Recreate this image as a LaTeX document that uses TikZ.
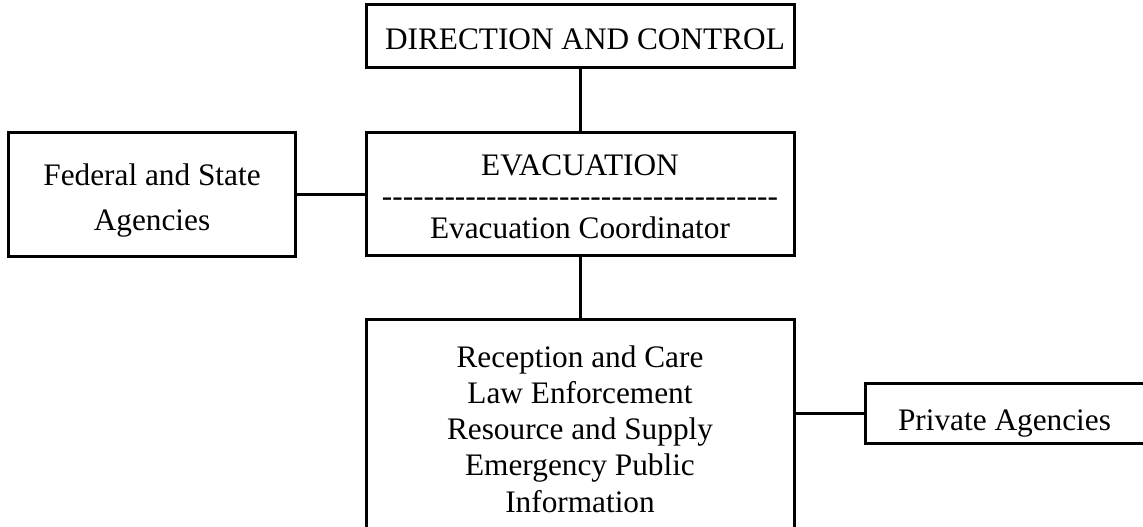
\documentclass[tikz,border=0pt]{standalone}
\usepackage{fontspec}
\setmainfont{Liberation Serif}
\tikzset{
  box/.style={draw, line width=3pt, rectangle, inner sep=0pt, outer sep=0pt},
  boxtext/.style={inner sep=0pt, outer sep=0pt, align=center},
  link/.style={line width=3pt},
}
% a row of separate hyphens, kept apart so they never join into dashes
\newcommand\hyphenrow{\foreach \k in {1,...,38}{\mbox{-}}}
\begin{document}
\begin{tikzpicture}[x=1pt,y=-1pt]
\useasboundingbox (0,0) rectangle (1143,527);
\clip (0,0) rectangle (1143,527);

% boxes
\node[box, minimum width=428pt, minimum height=63pt]  (direction) at (580,36.5) {};
\node[box, minimum width=428pt, minimum height=123pt] (evac)      at (580,193.5) {};
\node[box, minimum width=287pt, minimum height=124pt] (federal)   at (151.5,194) {};
\node[box, minimum width=428pt, minimum height=241pt] (support)   at (580,439.5) {};
\node[box, minimum width=305pt, minimum height=60pt]  (private)   at (1017.5,413) {};

% texts (multi-line blocks are placed by the baseline of their last line)
\node[boxtext, anchor=base west, font=\fontsize{31.3}{31.5}\selectfont]
  (directiontext) at (385,50) {DIRECTION AND CONTROL};
\node[boxtext, anchor=base, font=\fontsize{31.3}{31.5}\selectfont]
  (evactext) at (580,238) {EVACUATION\\\hyphenrow\\Evacuation Coordinator};
\node[boxtext, anchor=base, font=\fontsize{31.3}{45}\selectfont]
  (federaltext) at (152,230) {Federal and State\\Agencies};
\node[boxtext, anchor=base, font=\fontsize{31.3}{36.25}\selectfont]
  (supporttext) at (580,512) {Reception and Care\\Law Enforcement\\Resource and Supply\\Emergency Public\\Information};
\node[boxtext, anchor=base west, font=\fontsize{31.3}{31.5}\selectfont]
  (privatetext) at (898,430) {Private Agencies};

% connectors
\draw[link] (direction.south) -- (evac.north);
\draw[link] (evac.south) -- (support.north);
\draw[link] (federal.east) -- (federal.east -| evac.west);
\draw[link] (private.west -| support.east) -- (private.west);
\end{tikzpicture}
\end{document}
